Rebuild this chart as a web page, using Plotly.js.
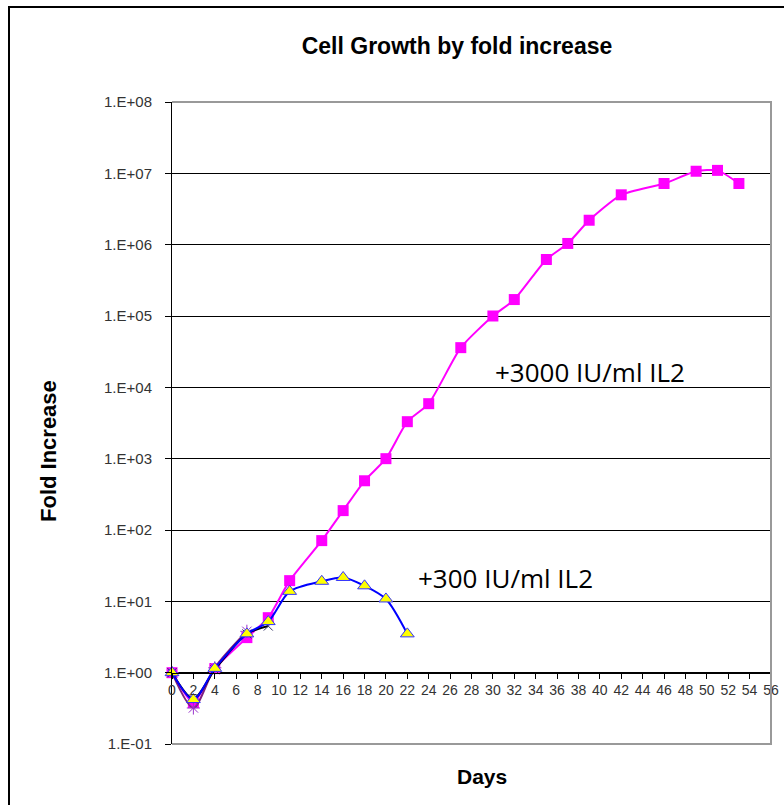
<!DOCTYPE html>
<html>
<head>
<meta charset="utf-8">
<script src="https://cdn.plot.ly/plotly-3.0.1.min.js"></script>
<style>
  html, body { margin: 0; padding: 0; background: #fff; }
  #chart { width: 784px; height: 805px; }
</style>
</head>
<body>
<div id="chart"></div>
<script>
// ---- data ----
const days3000 = [0, 2, 4, 7, 9, 11, 14, 16, 18, 20, 22, 24, 27, 30, 32, 35, 37, 39, 42, 46, 49, 51, 53];
const fold3000 = [1, 0.38, 1.14, 3.1, 5.9, 19.5, 71, 187, 490, 1000, 3300, 5900, 36000, 100000, 170000, 620000, 1040000, 2200000, 5000000, 7200000, 10700000, 11000000, 7200000];

const days300 = [0, 2, 4, 7, 9, 11, 14, 16, 18, 20, 22];
const fold300 = [1, 0.42, 1.15, 3.5, 5.2, 13.8, 19.1, 21.6, 16.5, 10.8, 3.5];

const daysBlack = [0, 2, 4, 7, 9];
const foldBlack = [1, 0.43, 1.1, 3.5, 4.5];

const daysPurple = [0, 2, 4, 7];
const foldPurple = [1, 0.32, 1.17, 3.8];

const xTickVals = [0, 2, 4, 6, 8, 10, 12, 14, 16, 18, 20, 22, 24, 26, 28, 30, 32, 34, 36, 38, 40, 42, 44, 46, 48, 50, 52, 54, 56];
const yTickVals = [1e-1, 1e0, 1e1, 1e2, 1e3, 1e4, 1e5, 1e6, 1e7, 1e8];
const yTickText = ['1.E-01', '1.E+00', '1.E+01', '1.E+02', '1.E+03', '1.E+04', '1.E+05', '1.E+06', '1.E+07', '1.E+08'];

const chartTitle = 'Cell Growth by fold increase';
const xTitle = 'Days';
const yTitle = 'Fold Increase';
const label3000 = '+3000 IU/ml IL2';
const label300 = '+300 IU/ml IL2';

// ---- traces ----
const traces = [
  {
    x: days3000, y: fold3000, type: 'scatter', mode: 'lines+markers',
    line: { color: '#FF00FF', width: 2, shape: 'spline', smoothing: 0.6 },
    marker: { symbol: 'square', size: 11, color: '#FF00FF' },
    cliponaxis: false
  },
  {
    x: daysPurple, y: foldPurple, type: 'scatter', mode: 'lines+markers',
    line: { color: '#7F1F7F', width: 2, shape: 'spline', smoothing: 0.8 },
    marker: { symbol: 'asterisk-open', size: 11, color: '#9933CC', line: { color: '#9933CC', width: 1 } },
    cliponaxis: false
  },
  {
    x: daysBlack, y: foldBlack, type: 'scatter', mode: 'lines+markers',
    line: { color: '#000000', width: 2, shape: 'spline', smoothing: 0.8 },
    marker: { symbol: 'x-thin-open', size: 9, color: '#333366', line: { color: '#333366', width: 1 } },
    cliponaxis: false
  },
  {
    x: days300, y: fold300, type: 'scatter', mode: 'lines+markers',
    line: { color: '#0000FF', width: 2, shape: 'spline', smoothing: 0.8 },
    marker: { symbol: 'triangle-up', size: 12, color: '#FFFF00', line: { color: '#3333FF', width: 1 } },
    cliponaxis: false
  }
];

const L = 172, R = 771, T = 102, B = 744;
const W = 784, H = 805;
const pw = R - L, ph = B - T;
const px = v => (v - L) / pw;
const py = v => (B - v) / ph;

const layout = {
  width: W, height: H,
  margin: { l: L, r: W - R, t: T, b: H - B, pad: 0 },
  paper_bgcolor: '#ffffff',
  plot_bgcolor: '#ffffff',
  showlegend: false,
  font: { family: 'Liberation Sans, Arial, sans-serif', color: '#000' },
  title: {
    text: chartTitle,
    font: { family: 'Liberation Sans, Arial, sans-serif', size: 23, color: '#000', weight: 'bold' },
    x: 457 / W, xanchor: 'center', y: 1 - 46 / H, yanchor: 'middle', xref: 'container', yref: 'container'
  },
  xaxis: {
    type: 'linear', range: [0, 56],
    tickmode: 'array', tickvals: xTickVals, ticktext: xTickVals.map(String),
    ticks: 'outside', ticklen: 5, tickcolor: '#000', tickwidth: 1,
    tickfont: { family: 'Liberation Sans, Arial, sans-serif', size: 14, color: '#333' },
    showline: true, linecolor: '#000', linewidth: 1,
    showgrid: false, zeroline: false,
    anchor: 'free', position: 1 / 9
  },
  yaxis: {
    type: 'log', range: [-1, 8],
    tickmode: 'array', tickvals: yTickVals, ticktext: yTickText,
    ticks: 'outside', ticklen: 6, tickcolor: '#000', tickwidth: 1,
    ticklabelstandoff: 10,
    tickfont: { family: 'Liberation Sans, Arial, sans-serif', size: 15, color: '#333' },
    showline: true, linecolor: '#000', linewidth: 1,
    showgrid: true, gridcolor: '#000', gridwidth: 1,
    zeroline: false
  },
  shapes: [
    { type: 'path', xref: 'paper', yref: 'paper', path: 'M 0 1 L 1 1 L 1 0 L 0 0', line: { color: '#999', width: 2 }, layer: 'above' },
    { type: 'rect', xref: 'paper', yref: 'paper', x0: px(9), x1: px(800), y0: py(820), y1: py(7), line: { color: '#000', width: 2 }, layer: 'below' }
  ],
  annotations: [
    { text: xTitle, xref: 'paper', yref: 'paper', x: px(482), y: py(776), xanchor: 'center', yanchor: 'middle', showarrow: false,
      font: { family: 'Liberation Sans, Arial, sans-serif', size: 21, color: '#000', weight: 'bold' } },
    { text: yTitle, xref: 'paper', yref: 'paper', x: px(48), y: py(451), xanchor: 'center', yanchor: 'middle', showarrow: false, textangle: -90,
      font: { family: 'Liberation Sans, Arial, sans-serif', size: 22, color: '#000', weight: 'bold' } },
    { text: label3000, xref: 'x', yref: 'y', x: 39.1, y: 4.22, xanchor: 'center', yanchor: 'middle', showarrow: false,
      font: { family: 'Open Sans, Lato, sans-serif', size: 26, color: '#000' } },
    { text: label300, xref: 'x', yref: 'y', x: 31.2, y: 1.33, xanchor: 'center', yanchor: 'middle', showarrow: false,
      font: { family: 'Open Sans, Lato, sans-serif', size: 26, color: '#000' } }
  ]
};

Plotly.newPlot('chart', traces, layout, { staticPlot: true, displayModeBar: false });
</script>
</body>
</html>
